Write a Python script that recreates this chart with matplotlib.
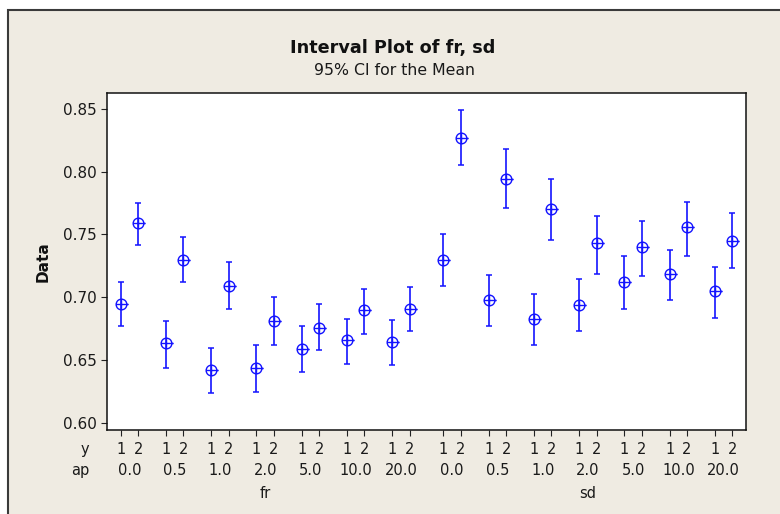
import numpy as np
import matplotlib
matplotlib.use("Agg")
import matplotlib.pyplot as plt
from matplotlib.path import Path
from matplotlib.patches import Rectangle

# data: means and 95% CI bounds, order ap x y
ap_levels = ["0.0", "0.5", "1.0", "2.0", "5.0", "10.0", "20.0"]
y_levels = ["1", "2"]
variables = ["fr", "sd"]

fr_mean = [0.695, 0.759, 0.664, 0.730, 0.642, 0.709, 0.644, 0.681,
           0.659, 0.676, 0.666, 0.690, 0.665, 0.691]
fr_low = [0.677, 0.742, 0.644, 0.712, 0.624, 0.691, 0.625, 0.662,
          0.641, 0.658, 0.647, 0.671, 0.646, 0.673]
fr_high = [0.712, 0.775, 0.681, 0.748, 0.660, 0.728, 0.662, 0.700,
           0.677, 0.695, 0.683, 0.707, 0.682, 0.708]

sd_mean = [0.730, 0.827, 0.698, 0.794, 0.683, 0.770, 0.694, 0.743,
           0.712, 0.740, 0.719, 0.756, 0.705, 0.745]
sd_low = [0.709, 0.805, 0.677, 0.771, 0.662, 0.746, 0.673, 0.719,
          0.691, 0.717, 0.698, 0.733, 0.684, 0.723]
sd_high = [0.750, 0.849, 0.718, 0.818, 0.703, 0.794, 0.715, 0.765,
           0.733, 0.761, 0.738, 0.776, 0.724, 0.767]

blue = "#1414ff"
beige = "#efebe2"

plt.rcParams["font.family"] = "DejaVu Sans"

fig = plt.figure(figsize=(7.8, 5.14), dpi=100, facecolor="white")
# minitab style panel with dark border at top and left
fig.patches.append(Rectangle((7.5 / 780, -0.05), 1.1, 1.05 - 9.5 / 514,
                             transform=fig.transFigure, facecolor=beige,
                             edgecolor="#3a3a3a", lw=1.5, zorder=-5))

ax = fig.add_axes([107 / 780, 1 - 430 / 514, 639 / 780, 337 / 514])
ax.set_facecolor("white")

# x positions: pairs of y inside each ap group, gap between fr and sd
step, gap = 2.6, 2.95
pos = []
for v in range(len(variables)):
    for g in range(len(ap_levels)):
        for k in range(len(y_levels)):
            pos.append(v * (6 * step + gap) + g * step + k)
pos = np.array(pos)

means = np.array(fr_mean + sd_mean)
lows = np.array(fr_low + sd_low)
highs = np.array(fr_high + sd_high)

# circle with cross, short tail to the right
circ = Path.unit_circle()
hline = Path([[-1, 0], [1.35, 0]], [Path.MOVETO, Path.LINETO])
vline = Path([[0, -1], [0, 1]], [Path.MOVETO, Path.LINETO])
mk = Path.make_compound_path(circ, hline, vline)

ax.errorbar(pos, means, yerr=[means - lows, highs - means], fmt="none",
            ecolor=blue, elinewidth=1.2, capsize=2.2, capthick=1.1)
ax.plot(pos, means, linestyle="none", marker=mk, markersize=10.4,
        markerfacecolor="none", markeredgecolor=blue, markeredgewidth=1.0)

ax.set_xlim(-0.79, pos[-1] + 0.79)
ax.set_ylim(0.5947, 0.8624)
ax.set_yticks([0.60, 0.65, 0.70, 0.75, 0.80, 0.85])
ax.set_yticklabels(["0.60", "0.65", "0.70", "0.75", "0.80", "0.85"])
ax.set_xticks(pos)
ax.set_xticklabels([])
ax.tick_params(axis="both", direction="out", length=4.3, width=0.8,
               color="#222222", labelsize=11, labelcolor="#1a1a1a", pad=2.8)
for s in ax.spines.values():
    s.set_linewidth(1.1)
    s.set_color("#111111")

# hierarchical x labels
for i, x in enumerate(pos):
    ax.annotate(y_levels[i % 2], xy=(x, 0), xycoords=("data", "axes fraction"),
                xytext=(0, -17.5), textcoords="offset points",
                ha="center", va="baseline", fontsize=10.5, color="#1a1a1a")
for j in range(len(pos) // 2):
    xc = (pos[2 * j] + pos[2 * j + 1]) / 2
    ax.annotate(ap_levels[j % 7], xy=(xc, 0), xycoords=("data", "axes fraction"),
                xytext=(0, -32.4), textcoords="offset points",
                ha="center", va="baseline", fontsize=10.5, color="#1a1a1a")
for v, name in enumerate(variables):
    xc = (pos[14 * v] + pos[14 * v + 13]) / 2
    ax.annotate(name, xy=(xc, 0), xycoords=("data", "axes fraction"),
                xytext=(0, -49), textcoords="offset points",
                ha="center", va="baseline", fontsize=10.5, color="#1a1a1a")

fig.text(89 / 780, 1 - 454.3 / 514, "y", ha="right", va="baseline",
         fontsize=10.5, color="#1a1a1a")
fig.text(89 / 780, 1 - 475 / 514, "ap", ha="right", va="baseline",
         fontsize=10.5, color="#1a1a1a")

fig.text(43 / 780, 1 - 261.5 / 514, "Data", rotation=90, ha="center",
         va="center", fontsize=11, fontweight="bold", color="#111111")

fig.text(393 / 780, 1 - 52.7 / 514, "Interval Plot of fr, sd", ha="center",
         va="baseline", fontsize=12.7, fontweight="bold", color="#111111")
fig.text(394 / 780, 1 - 75 / 514, "95% CI for the Mean", ha="center",
         va="baseline", fontsize=11.3, color="#1a1a1a")

fig.savefig("out.png", dpi=100, facecolor=fig.get_facecolor())
